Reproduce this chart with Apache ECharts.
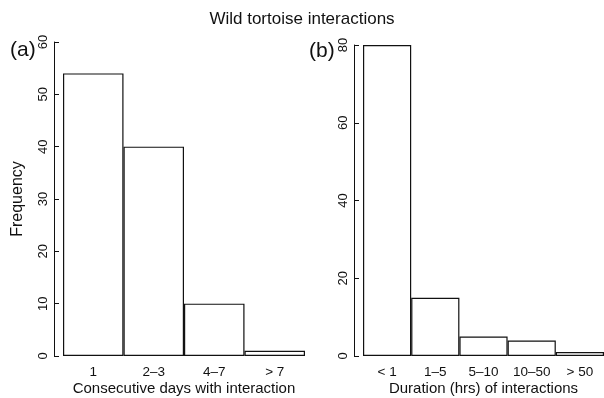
<!DOCTYPE html>
<html><head><meta charset="utf-8">
<script src="https://cdn.jsdelivr.net/npm/echarts@6/dist/echarts.min.js"></script>
<style>html,body{margin:0;padding:0;background:#fff}#c{width:604px;height:398px}</style>
</head><body><div id="c"></div>
<script>
const catsA = ['1', '2\u20133', '4\u20137', '> 7'];
const valsA = [54, 40, 10, 1];
const catsB = ['< 1', '1\u20135', '5\u201310', '10\u201350', '> 50'];
const valsB = [80, 15, 5, 4, 1];
const ticksA = [0, 10, 20, 30, 40, 50, 60];
const ticksB = [0, 20, 40, 60, 80];

const font = 'Liberation Sans, Arial, Helvetica, sans-serif';
const chart = echarts.init(document.getElementById('c'));
const barStyle = {color: '#fff', borderColor: '#111', borderWidth: 1.2};
function yAx(idx, max, interval, offset, name) {
  return {
    gridIndex: idx, type: 'value', min: 0, max: max, interval: interval, offset: offset,
    name: name, nameLocation: 'middle', nameRotate: 90, nameGap: 28,
    nameTextStyle: {fontFamily: font, fontSize: 16, color: '#111'},
    axisLine: {show: true, lineStyle: {color: '#111', width: 1}},
    axisTick: {show: true, inside: true, length: 5, lineStyle: {color: '#111'}},
    axisLabel: {rotate: 90, margin: 4, fontFamily: font, fontSize: 13, color: '#111'},
    splitLine: {show: false}
  };
}
function xAx(idx, data, name) {
  return {
    gridIndex: idx, type: 'category', data: data, boundaryGap: true,
    name: name, nameLocation: 'middle', nameGap: 25, nameMoveOverlap: false,
    nameTextStyle: {fontFamily: font, fontSize: 15, color: '#111'},
    axisLine: {show: false}, axisTick: {show: false},
    axisLabel: {margin: 9, fontFamily: font, fontSize: 13.5, color: '#111', interval: 0}
  };
}
chart.setOption({
  animation: false,
  backgroundColor: '#fff',
  title: [
    {text: 'Wild tortoise interactions', left: 'center', top: 6, textStyle: {fontFamily: font, fontSize: 17, fontWeight: 'normal', color: '#111'}},
    {text: '(a)', left: 5, top: 35, textStyle: {fontFamily: font, fontSize: 21, fontWeight: 'normal', color: '#111'}},
    {text: '(b)', left: 304, top: 36, textStyle: {fontFamily: font, fontSize: 21, fontWeight: 'normal', color: '#111'}}
  ],
  grid: [
    {left: 63, right: 299, top: 42, bottom: 42, outerBoundsMode: 'none'},
    {left: 363, right: 0, top: 45, bottom: 42, outerBoundsMode: 'none'}
  ],
  xAxis: [xAx(0, catsA, 'Consecutive days with interaction'), xAx(1, catsB, 'Duration (hrs) of interactions')],
  yAxis: [yAx(0, 60, 10, 9, 'Frequency'), yAx(1, 80, 20, 9, '')],
  series: [
    {type: 'bar', xAxisIndex: 0, yAxisIndex: 0, data: valsA, barCategoryGap: '0%', itemStyle: barStyle},
    {type: 'bar', xAxisIndex: 1, yAxisIndex: 1, data: valsB, barCategoryGap: '0%', itemStyle: barStyle}
  ]
});
</script></body></html>
